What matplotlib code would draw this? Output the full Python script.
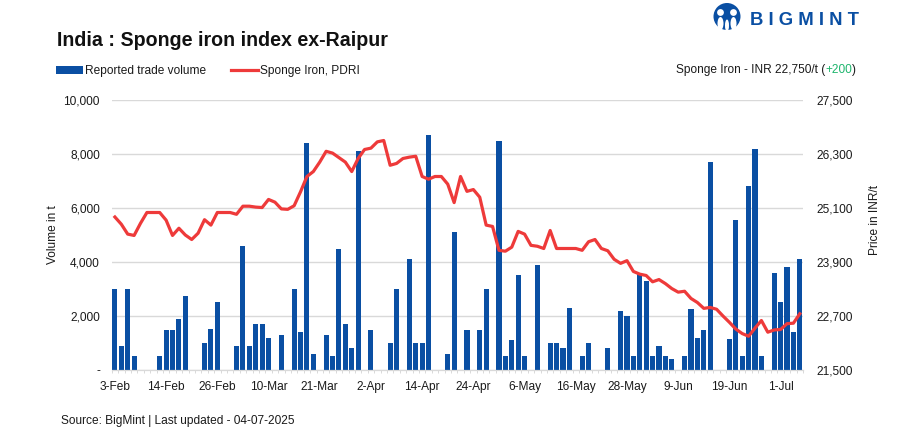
import matplotlib
matplotlib.use("Agg")
import matplotlib.pyplot as plt
from matplotlib.patches import Circle, Ellipse
import numpy as np

plt.rcParams['font.family'] = ['Liberation Sans', 'DejaVu Sans']

W, H = 907, 438
BLUE = '#0A4FA3'
RED = '#EE3A3A'
GRID = '#D9D9D9'
TXT = '#1A1A1A'
FS = 8.6

tick_dates = ['3-Feb', '14-Feb', '26-Feb', '10-Mar', '21-Mar', '2-Apr', '14-Apr',
              '24-Apr', '6-May', '16-May', '28-May', '9-Jun', '19-Jun', '1-Jul']

# one entry per reported day, 0 = no trade reported
volume = [3000, 900, 3000, 520, 0, 0, 0, 520, 1500, 1500, 1900, 2750,
          0, 0, 1000, 1520, 2520, 0, 0, 900, 4600, 900, 1700, 1700, 1200, 0,
          1300, 0, 3000, 1400, 8400, 600, 0, 1300, 520, 4500, 1700, 820, 8100, 0,
          1500, 0, 0, 1000, 3000, 0, 4100, 1000, 1000, 8700, 0, 0, 600, 5100, 0,
          1500, 0, 1500, 3000, 0, 8500, 520, 1120, 3520, 520, 0, 3900, 0, 1000,
          1000, 820, 2300, 0, 520, 1000, 0, 0, 820, 0, 2180, 2000, 520, 3550,
          3300, 520, 900, 520, 400, 0, 520, 2250, 1180, 1500, 7700, 0, 0, 1150,
          5550, 520, 6800, 8200, 520, 0, 3600, 2520, 3830, 1400, 4100]

price = [24900, 24740, 24520, 24490, 24760, 25000, 25000, 25000, 24830, 24490,
         24650, 24500, 24400, 24540, 24840, 24720, 25000, 25000, 25000, 24960,
         25140, 25140, 25120, 25110, 25290, 25230, 25080, 25070, 25150, 25460,
         25800, 25910, 26120, 26360, 26320, 26220, 26120, 25910, 26200, 26400,
         26430, 26570, 26600, 26050, 26090, 26200, 26230, 26250, 25800, 25740,
         25800, 25800, 25630, 25220, 25800, 25470, 25510, 25340, 24720, 24690,
         24160, 24140, 24230, 24580, 24520, 24270, 24250, 24200, 24600, 24200,
         24200, 24200, 24200, 24160, 24350, 24400, 24200, 24150, 23960, 23870,
         23930, 23690, 23630, 23600, 23460, 23510, 23420, 23310, 23230, 23250,
         23090, 23000, 22870, 22890, 22850, 22700, 22560, 22410, 22310, 22250,
         22430, 22600, 22340, 22390, 22400, 22530, 22540, 22750]

vol_ticks = [0, 2000, 4000, 6000, 8000, 10000]
vol_labels = ['-', '2,000', '4,000', '6,000', '8,000', '10,000']
price_ticks = [21500, 22700, 23900, 25100, 26300, 27500]
price_labels = ['21,500', '22,700', '23,900', '25,100', '26,300', '27,500']

fig = plt.figure(figsize=(W / 100, H / 100), dpi=100)
fig.patch.set_facecolor('white')

left, right, top, bottom = 111.7, 803, 100, 370
ax = fig.add_axes([left / W, 1 - bottom / H, (right - left) / W, (bottom - top) / H])
ax2 = ax.twinx()

x = np.arange(len(volume))
bars = ax.bar(x, volume, width=0.8, color=BLUE, label='Reported trade volume', zorder=2)
line, = ax2.plot(x, price, color=RED, lw=2.3, label='Sponge Iron, PDRI',
                 solid_joinstyle='round', zorder=3)

ax.set_xlim(-0.5, len(volume) - 0.5)
ax.set_ylim(0, 10000)
ax2.set_ylim(21500, 27500)

ax.set_xticks(x[::8][:len(tick_dates)], tick_dates)
ax.set_xticks(np.arange(len(volume) + 1) - 0.5, minor=True)
ax.tick_params(axis='x', which='major', length=0, pad=8, labelsize=FS, labelcolor=TXT)
ax.tick_params(axis='x', which='minor', length=2.2, width=0.7, color=GRID)

ax.set_yticks(vol_ticks, vol_labels)
ax.tick_params(axis='y', length=0, pad=8.5, labelsize=FS, labelcolor=TXT)
ax2.set_yticks(price_ticks, price_labels)
ax2.tick_params(axis='y', length=0, pad=10, labelsize=FS, labelcolor=TXT)

ax.grid(axis='y', color=GRID, lw=1.0, zorder=0)
ax.set_axisbelow(True)
for a in (ax, ax2):
    for s in ('top', 'left', 'right'):
        a.spines[s].set_visible(False)
    a.spines['bottom'].set_color(GRID)

ax.set_ylabel('Volume in t', fontsize=FS, color=TXT)
ax.yaxis.set_label_coords((59 - left) / (right - left), 0.5)
ax2.set_ylabel('Price in INR/t', fontsize=FS, color=TXT)
ax2.yaxis.set_label_coords((869 - left) / (right - left), (bottom - 220) / (bottom - top))


def fx(px):
    return px / W


def fy(py):
    return 1 - py / H


fig.text(fx(57), fy(40.5), 'India : Sponge iron index ex-Raipur', fontsize=14.1,
         fontweight='bold', color='#111111', va='center', ha='left')

fig.legend(handles=[bars, line], loc='center left', ncol=2, frameon=False,
           bbox_to_anchor=(fx(56), fy(71)), borderaxespad=0, borderpad=0, fontsize=FS,
           handlelength=2.26, handleheight=0.6, handletextpad=0.17, columnspacing=2.05,
           labelcolor=TXT)

# headline price, built right to left so that +200 can be green
r = fig.canvas.get_renderer()
px_right = 856
for s, c in [(')', TXT), ('+200', '#1DB56C'), ('Sponge Iron - INR 22,750/t (', TXT)]:
    t = fig.text(fx(px_right), fy(73), s, fontsize=FS, color=c, ha='right', va='baseline')
    px_right -= t.get_window_extent(r).width

fig.text(fx(61), fy(421), 'Source: BigMint | Last updated - 04-07-2025', fontsize=FS,
         color=TXT, ha='left', va='center')

# logo
logo = fig.add_axes([0, 0, 1, 1], facecolor='none')
logo.set_xlim(0, W)
logo.set_ylim(H, 0)
logo.axis('off')
logo.add_patch(Circle((727, 16.5), 13.5, color=BLUE, lw=0))
for cx in (720.5, 733.5):
    logo.add_patch(Circle((cx, 12.5), 3.4, color='white', lw=0))
    logo.add_patch(Ellipse((cx, 23.5), 6, 13, color='white', lw=0))
logo.add_patch(Ellipse((727, 25.5), 4, 12, color='white', lw=0))
fig.text(fx(750), fy(25), 'B I G M I N T', fontsize=13.3, fontweight='bold', color=BLUE,
         ha='left', va='baseline')

fig.savefig('out.png', dpi=100)
